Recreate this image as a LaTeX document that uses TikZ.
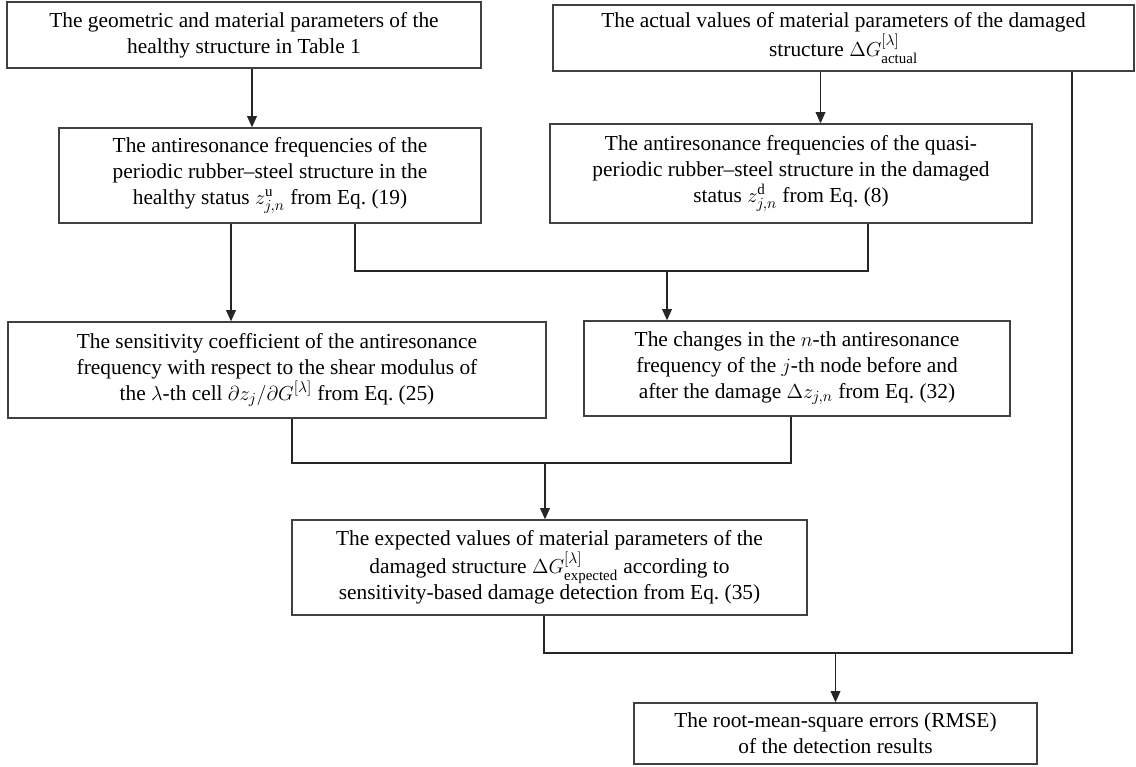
\documentclass[tikz,border=0pt]{standalone}
\usepackage{amsmath,amssymb}
\usepackage{fontspec}
\setmainfont{Liberation Serif}
\usetikzlibrary{arrows.meta,calc}

\begin{document}
\begin{tikzpicture}[x=0.025cm, y=-0.025cm,
  box/.style 2 args={draw=black!75, line width=1pt, align=center, inner sep=0pt,
    minimum width=#1*0.025cm, minimum height=#2*0.025cm,
    font=\fontsize{15.2}{18.4}\selectfont},
  link/.style={draw=black!85, line width=0.8pt},
  arr/.style={link, -{Triangle[length=8pt,width=7pt]}}]
  \useasboundingbox (0,0) rectangle (1136,767);
  % input boxes
  \node[box={474}{66}] (geo) at (244,35) {The geometric and material parameters of the\\ healthy structure in Table 1};
  \node[box={581}{66}] (act) at (843.5,38) {The actual values of material parameters of the damaged\\ structure $\Delta G^{[\lambda]}_{\mathrm{actual}}$};
  % antiresonance frequencies
  \node[box={422}{95}] (hea) at (270,175.5) {The antiresonance frequencies of the\\ periodic rubber--steel structure in the\\ healthy status $z^{\mathrm{u}}_{j,n}$ from Eq.~(19)};
  \node[box={482}{99}] (dam) at (791,173.5) {The antiresonance frequencies of the quasi-\\ periodic rubber--steel structure in the damaged\\ status $z^{\mathrm{d}}_{j,n}$ from Eq.~(8)};
  % sensitivity and changes
  \node[box={538}{96}] (sen) at (277,370) {The sensitivity coefficient of the antiresonance\\ frequency with respect to the shear modulus of\\ the $\lambda$-th cell $\partial z_j/\partial G^{[\lambda]}$ from Eq.~(25)};
  \node[box={426}{95}] (chg) at (797,368.5) {The changes in the $n$-th antiresonance\\ frequency of the $j$-th node before and\\ after the damage $\Delta z_{j,n}$ from Eq.~(32)};
  % expected values and errors
  \node[box={515}{95}] (exp) at (549.5,567.5) {The expected values of material parameters of the\\ damaged structure $\Delta G^{[\lambda]}_{\mathrm{expected}}$ according to\\ sensitivity-based damage detection from Eq.~(35)};
  \node[box={403}{61}] (rms) at (835.5,733.5) {The root-mean-square errors (RMSE)\\ of the detection results};

  % junctions
  \coordinate (j1) at (355,271); \coordinate (j2) at (868,271);
  \coordinate (j3) at (292,463); \coordinate (j4) at (791,463);
  \coordinate (j5) at (544,653); \coordinate (j6) at (1072,653);

  \draw[arr] ([xshift=8*0.025cm]geo.south) -- ([xshift=8*0.025cm]geo.south |- hea.north);
  \draw[arr] ([xshift=-23*0.025cm]act.south) -- ([xshift=-23*0.025cm]act.south |- dam.north);
  \draw[arr] (hea.south -| 231,0) -- (sen.north -| 231,0);
  \draw[link] (hea.south -| j1) -- (j1) -- (j2) -- (dam.south -| j2);
  \draw[arr] (j1 -| 667,0) -- (chg.north -| 667,0);
  \draw[link] (sen.south -| j3) -- (j3) -- (j4) -- (chg.south -| j4);
  \draw[arr] (j3 -| 545,0) -- (exp.north -| 545,0);
  \draw[link] (exp.south -| j5) -- (j5) -- (j6) -- (act.south -| j6);
  \draw[arr] (j5 -| rms.north) -- (rms.north);
\end{tikzpicture}
\end{document}
